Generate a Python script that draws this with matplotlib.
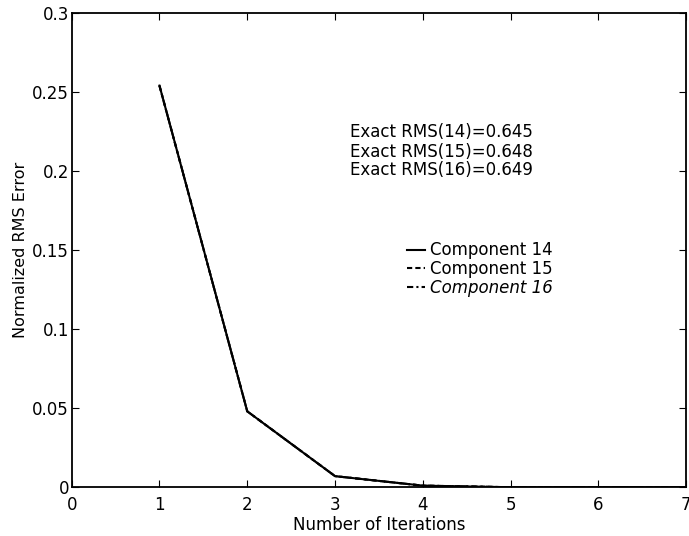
import matplotlib.pyplot as plt
import numpy as np

plt.rcParams['font.family'] = ['DejaVu Sans']
plt.rcParams['font.size'] = 12

iterations = [1, 2, 3, 4, 5, 6, 7]
comp14 = [0.254, 0.048, 0.007, 0.001, 0.0, 0.0, 0.0]
comp15 = [0.254, 0.048, 0.007, 0.001, 0.0, 0.0, 0.0]
comp16 = [0.254, 0.048, 0.007, 0.001, 0.0, 0.0, 0.0]
labels = ['Component 14', 'Component 15', 'Component 16']
exact_rms = ['Exact RMS(14)=0.645', 'Exact RMS(15)=0.648', 'Exact RMS(16)=0.649']

fig = plt.figure(figsize=(6.89, 5.36), dpi=100)
ax = fig.add_axes([0.104, 0.091, 0.892, 0.885])

ax.plot(iterations, comp14, 'k-', lw=1.5, label=labels[0])
ax.plot(iterations, comp15, 'k', lw=1.5, dashes=(2.5, 1.5), label=labels[1])
ax.plot(iterations, comp16, 'k', lw=1.5, dashes=(3, 1.5, 1, 1.5), label=labels[2])

ax.set_xlim(0, 7)
ax.set_ylim(0, 0.3)
ax.set_xticks(range(8))
ax.set_yticks([0, 0.05, 0.1, 0.15, 0.2, 0.25, 0.3])
ax.set_yticklabels(['0', '0.05', '0.1', '0.15', '0.2', '0.25', '0.3'])
ax.tick_params(direction='in', top=True, right=True, length=5, labelsize=12)
ax.tick_params(axis='y', pad=2)
ax.tick_params(axis='x', pad=6)
for s in ax.spines.values():
    s.set_linewidth(1.3)

ax.set_xlabel('Number of Iterations', fontsize=12, labelpad=2)
ax.set_ylabel('Normalized RMS Error', fontsize=11.5, labelpad=3)

rows = [0.2244, 0.2122, 0.2006]
for y, t in zip(rows, exact_rms):
    ax.text(4.21, y, t, ha='center', va='center', fontsize=12)

leg = ax.legend(loc='upper left', bbox_to_anchor=(3.82, 0.1555),
                bbox_transform=ax.transData, frameon=False, borderpad=0,
                borderaxespad=0, handlelength=1.1, handletextpad=0.3,
                labelspacing=0.05, fontsize=12)
leg.get_texts()[2].set_fontstyle('italic')

fig.savefig('out.png', dpi=100)
